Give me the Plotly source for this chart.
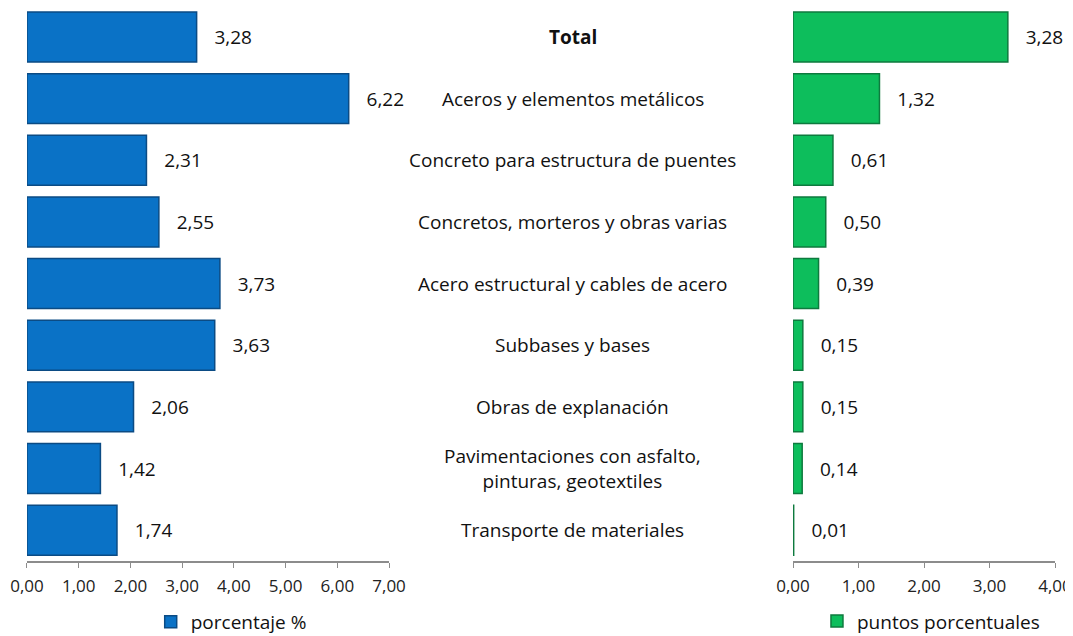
import plotly.graph_objects as go

# Categories (top to bottom) and the two series
categorias = [
    "<b>Total</b>",
    "Aceros y elementos metálicos",
    "Concreto para estructura de puentes",
    "Concretos, morteros y obras varias",
    "Acero estructural y cables de acero",
    "Subbases y bases",
    "Obras de explanación",
    "Pavimentaciones con asfalto,<br>pinturas, geotextiles",
    "Transporte de materiales",
]
porcentaje = [3.28, 6.22, 2.31, 2.55, 3.73, 3.63, 2.06, 1.42, 1.74]
puntos = [3.28, 1.32, 0.61, 0.50, 0.39, 0.15, 0.15, 0.14, 0.01]

ticks_izq = [0, 1, 2, 3, 4, 5, 6, 7]
ticks_der = [0, 1, 2, 3, 4]

FONT = "Open Sans"
pad = "\u00a0" * 3

# the page body has an 8px margin, so the figure is a bit smaller than the window
W, H = 1065, 628


def fmt(v):
    return pad + f"{v:.2f}".replace(".", ",")


fig = go.Figure()

fig.add_trace(go.Bar(
    y=categorias, x=porcentaje, orientation="h",
    name="porcentaje %",
    marker=dict(color="#0A72C6", line=dict(color="#0B4B84", width=1.5)),
    text=[fmt(v) for v in porcentaje], textposition="outside",
    textfont=dict(size=19, color="#111111"),
    cliponaxis=False,
    xaxis="x", yaxis="y", legend="legend",
))

fig.add_trace(go.Bar(
    y=categorias, x=puntos, orientation="h",
    name="puntos porcentuales",
    marker=dict(color="#0DBE5C", line=dict(color="#0E7A3E", width=1.5)),
    text=[fmt(v) for v in puntos], textposition="outside",
    textfont=dict(size=19, color="#111111"),
    cliponaxis=False,
    xaxis="x2", yaxis="y", legend="legend2",
))

# Category labels in the middle column
for c in categorias:
    fig.add_annotation(
        x=0.5305, xref="paper", y=c, yref="y",
        text=c, showarrow=False, xanchor="center",
        font=dict(size=19, color="#111111", family=FONT),
    )

axis_common = dict(
    showgrid=False, zeroline=False, automargin=False,
    showline=True, linecolor="#8c8c8c", linewidth=1.5,
    ticks="outside", ticklen=5, tickcolor="#8c8c8c",
    tickformat=".2f", tickfont=dict(size=17, color="#222222"),
    ticklabelstandoff=4,
    anchor="y",
)

fig.update_layout(
    width=W, height=H,
    margin=dict(l=0, r=0, t=0, b=0, autoexpand=False),
    paper_bgcolor="white", plot_bgcolor="white",
    font=dict(family=FONT, color="#111111"),
    separators=",.",
    bargap=0.19,
    xaxis=dict(domain=[0.0178, 0.3578], range=[0, 7], tickvals=ticks_izq, **axis_common),
    xaxis2=dict(domain=[0.7371, 0.9831], range=[0, 4], tickvals=ticks_der, **axis_common),
    yaxis=dict(domain=[0.1194, 1.0], range=[8.5, -0.47], automargin=False,
               showticklabels=False, showline=False, showgrid=False, zeroline=False),
    showlegend=True,
    legend=dict(x=0.1340, y=0.0223, xanchor="left", yanchor="middle",
                font=dict(size=19, color="#111111"), bgcolor="rgba(0,0,0,0)",
                itemwidth=30),
    legend2=dict(x=0.7596, y=0.0235, xanchor="left", yanchor="middle",
                 font=dict(size=19, color="#111111"), bgcolor="rgba(0,0,0,0)",
                 itemwidth=30),
)

fig.write_html("out.html")
